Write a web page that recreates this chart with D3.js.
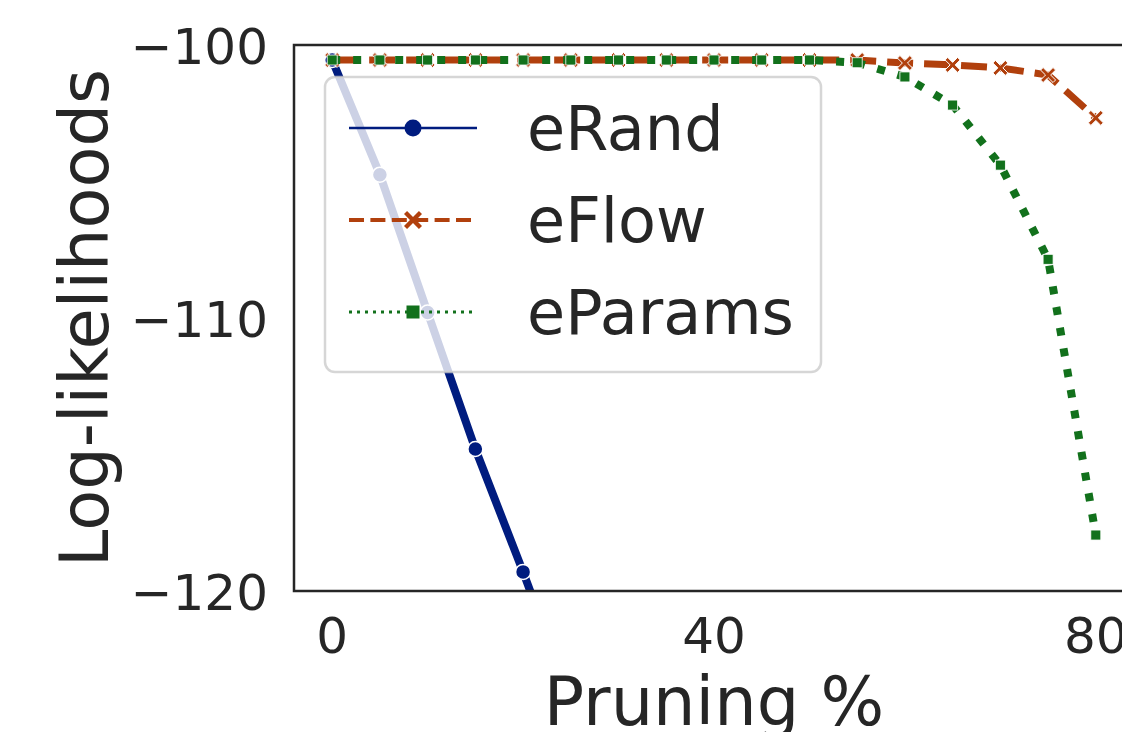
<!DOCTYPE html>
<html><head><meta charset="utf-8">
<script src="https://cdn.jsdelivr.net/npm/d3@7"></script>
<style>html,body{margin:0;padding:0;background:#fff;}svg{display:block;font-family:"DejaVu Sans",sans-serif;}</style>
</head><body>
<svg id="chart" width="1122" height="732"></svg>
<script>
// ---- data ----
const pruning = [0,5,10,15,20,25,30,35,40,45,50,55,60,65,70,75,80];
const pruningRand = [0,5,10,15,20,25];
const eRand = [-100.55,-104.75,-109.8,-114.8,-119.3,-124.0];
const eFlow = [-100.55,-100.55,-100.55,-100.55,-100.55,-100.55,-100.55,-100.55,-100.55,-100.55,-100.55,-100.55,-100.66,-100.73,-100.84,-101.1,-102.67];
const eParams = [-100.55,-100.55,-100.55,-100.55,-100.55,-100.55,-100.55,-100.55,-100.55,-100.55,-100.55,-100.65,-101.17,-102.2,-104.4,-107.85,-117.95];
const seriesNames = ["eRand","eFlow","eParams"];
const xTicks = [0,40,80];
const yTicks = [-100,-110,-120];

const colors = {eRand:"#001c7f", eFlow:"#b1400d", eParams:"#12711c"};
const svg = d3.select("#chart");
const L = 294, R = 1134, T = 45, B = 591;
const x = d3.scaleLinear().domain([-4,84]).range([L,R]);
const y = d3.scaleLinear().domain([-120,-100]).range([B,T]);
const ink = "#262626";

svg.append("defs").append("clipPath").attr("id","clip")
  .append("rect").attr("x",L).attr("y",T).attr("width",R-L).attr("height",B-T);

const plot = svg.append("g").attr("clip-path","url(#clip)");
const line = d3.line().x(d=>x(d[0])).y(d=>y(d[1]));

const Xpath = s => { // filled X marker
  const a = s/2, w = s*0.17;
  return `M${-a},${-a+w}L${-a+w},${-a}L0,${-w}L${a-w},${-a}L${a},${-a+w}L${w},0L${a},${a-w}L${a-w},${a}L0,${w}L${-a+w},${a}L${-a},${a-w}L${-w},0Z`;
};

// eRand
const dRand = pruningRand.map((p,i)=>[p,eRand[i]]);
plot.append("path").attr("d",line(dRand)).attr("fill","none")
  .attr("stroke",colors.eRand).attr("stroke-width",8);
plot.selectAll(".mr").data(dRand).join("circle")
  .attr("cx",d=>x(d[0])).attr("cy",d=>y(d[1])).attr("r",7.5)
  .attr("fill",colors.eRand).attr("stroke","#fff").attr("stroke-width",1.5);

// eFlow
const dFlow = pruning.map((p,i)=>[p,eFlow[i]]);
plot.append("path").attr("d",line(dFlow)).attr("fill","none")
  .attr("stroke",colors.eFlow).attr("stroke-width",7).attr("stroke-dasharray","26,11");
plot.selectAll(".mf").data(dFlow).join("path")
  .attr("transform",d=>`translate(${x(d[0])},${y(d[1])})`)
  .attr("d",Xpath(15)).attr("fill",colors.eFlow).attr("stroke","#fff").attr("stroke-width",1);

// eParams
const dPar = pruning.map((p,i)=>[p,eParams[i]]);
plot.append("path").attr("d",line(dPar)).attr("fill","none")
  .attr("stroke",colors.eParams).attr("stroke-width",8).attr("stroke-dasharray","8,13");
plot.selectAll(".mp").data(dPar).join("rect")
  .attr("x",d=>x(d[0])-5).attr("y",d=>y(d[1])-5).attr("width",10).attr("height",10)
  .attr("fill",colors.eParams).attr("stroke","#fff").attr("stroke-width",0.8);

// legend
const lg = svg.append("g");
lg.append("rect").attr("x",325).attr("y",77).attr("width",496).attr("height",295).attr("rx",10)
  .attr("fill","#fff").attr("fill-opacity",0.8).attr("stroke","#cccccc").attr("stroke-opacity",0.8).attr("stroke-width",2.5);
const legY = [128,220,312];
const legStyles = {
  eRand:{w:2.7,dash:null},
  eFlow:{w:4,dash:"15,6.4"},
  eParams:{w:3,dash:"3,5"}
};
seriesNames.forEach((n,i)=>{
  const g = lg.append("g");
  g.append("line").attr("x1",349).attr("x2",477).attr("y1",legY[i]).attr("y2",legY[i])
    .attr("stroke",colors[n]).attr("stroke-width",legStyles[n].w)
    .attr("stroke-dasharray",legStyles[n].dash);
  if(n==="eRand") g.append("circle").attr("cx",413).attr("cy",legY[i]).attr("r",8.5).attr("fill",colors[n]);
  if(n==="eFlow") g.append("path").attr("transform",`translate(413,${legY[i]})`).attr("d",Xpath(18)).attr("fill",colors[n]);
  if(n==="eParams") g.append("rect").attr("x",406.5).attr("y",legY[i]-6.5).attr("width",13).attr("height",13).attr("fill",colors[n]);
  g.append("text").attr("x",527).attr("y",legY[i]+22).attr("font-size",62).attr("fill",ink).text(n);
});

// frame (left, top, bottom; right edge lies beyond the canvas)
svg.append("rect").attr("x",L).attr("y",T).attr("width",R-L).attr("height",B-T)
  .attr("fill","none").attr("stroke",ink).attr("stroke-width",2.5);

// ticks
svg.selectAll(".xt").data(xTicks).join("text")
  .attr("x",d=>x(d)).attr("y",653).attr("text-anchor","middle").attr("font-size",50).attr("fill",ink)
  .text(d=>d3.format("d")(d));
svg.selectAll(".yt").data(yTicks).join("text")
  .attr("x",268).attr("y",d=>y(d)+19).attr("text-anchor","end").attr("font-size",50).attr("fill",ink)
  .text(d=>"\u2212"+Math.abs(d));

// axis labels
svg.append("text").attr("x",x(40)).attr("y",725).attr("text-anchor","middle").attr("font-size",67).attr("fill",ink).text("Pruning %");
svg.append("text").attr("transform",`translate(108,${(T+B)/2}) rotate(-90)`).attr("text-anchor","middle")
  .attr("font-size",67).attr("fill",ink).text("Log-likelihoods");
</script>
</body></html>
